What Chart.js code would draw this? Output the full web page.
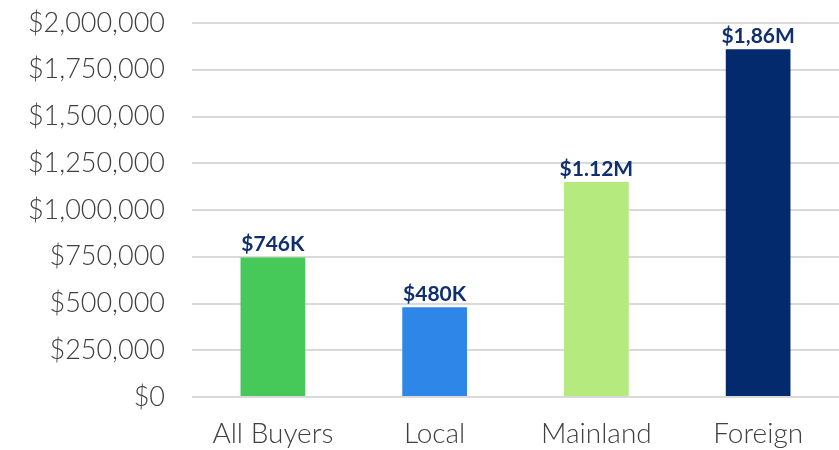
<!DOCTYPE html>
<html>
<head>
<meta charset="utf-8">
<script src="https://cdn.jsdelivr.net/npm/chart.js@4"></script>
<style>
  html, body { margin: 0; padding: 0; background: #fff; }
  #wrap { width: 839px; height: 450px; position: relative; }
</style>
</head>
<body>
<div id="wrap"><canvas id="priceChart"></canvas></div>
<script>
const categories = ['All Buyers', 'Local', 'Mainland', 'Foreign'];
const medianPrices = [746000, 480000, 1150000, 1860000];
const priceLabels = ['$746K', '$480K', '$1.12M', '$1,86M'];
const barColors = ['#47c95a', '#2e86e8', '#b5eb7e', '#022a6c'];

function formatDollars(value) {
  return '$' + Number(value || 0).toLocaleString('en-US');
}

// draws the value text above each bar
const barLabelPlugin = {
  id: 'barLabels',
  afterDatasetsDraw(chart) {
    const ctx = chart.ctx;
    const meta = chart.getDatasetMeta(0);
    ctx.save();
    ctx.font = 'bold 21px Lato';
    ctx.fillStyle = '#0f2f6e';
    ctx.textAlign = 'center';
    ctx.textBaseline = 'alphabetic';
    meta.data.forEach((bar, i) => {
      ctx.fillText(priceLabels[i], bar.x, bar.y - 6);
    });
    ctx.restore();
  }
};

new Chart(document.getElementById('priceChart'), {
  type: 'bar',
  data: {
    labels: categories,
    datasets: [
      {
        data: medianPrices,
        backgroundColor: barColors,
        borderWidth: 0,
        barPercentage: 0.4,
        categoryPercentage: 1
      }
    ]
  },
  options: {
    responsive: true,
    maintainAspectRatio: false,
    animation: false,
    layout: {
      padding: { top: 23, right: -5, left: 0, bottom: 0 }
    },
    plugins: {
      legend: { display: false },
      tooltip: { enabled: false }
    },
    scales: {
      x: {
        grid: { display: false },
        border: { display: false },
        ticks: {
          color: '#404040',
          font: { family: 'Lato', size: 28, weight: 300 },
          padding: 12
        },
        afterFit: scale => { scale.height = 53; }
      },
      y: {
        min: 0,
        max: 2000000,
        grid: {
          color: '#d9d9d9',
          lineWidth: 2,
          drawTicks: true,
          tickLength: 27,
          tickColor: 'rgba(0,0,0,0)'
        },
        border: { display: false },
        ticks: {
          stepSize: 250000,
          color: '#404040',
          font: { family: 'Lato', size: 27, weight: 300 },
          padding: 0,
          callback: value => formatDollars(value)
        },
        afterFit: scale => { scale.width = 192; }
      }
    }
  },
  plugins: [barLabelPlugin]
});
</script>
</body>
</html>
